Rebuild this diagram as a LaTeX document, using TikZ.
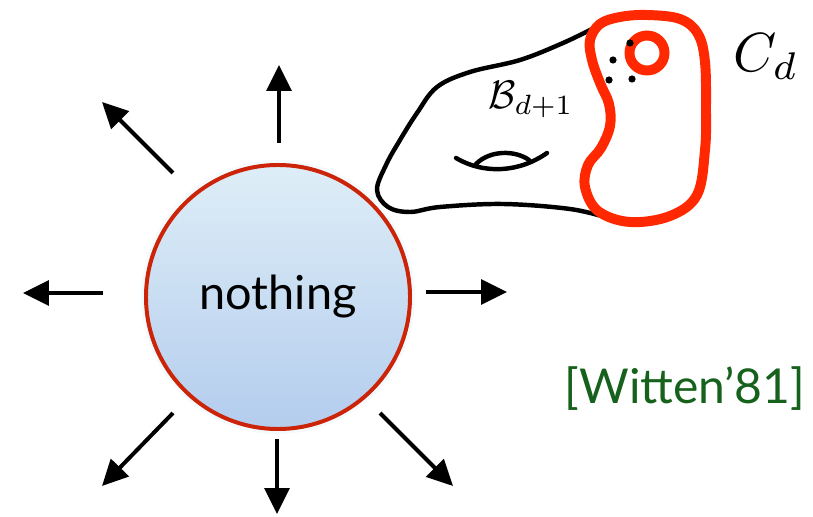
\documentclass[tikz,border=0pt]{standalone}
\usepackage{fontspec}
\setmainfont{Lato}
\usetikzlibrary{arrows.meta}

\definecolor{rimred}{RGB}{204,36,8}
\definecolor{bordred}{RGB}{255,40,0}
\definecolor{skytop}{RGB}{222,238,247}
\definecolor{skybot}{RGB}{180,205,238}
\definecolor{refgreen}{RGB}{22,98,28}

\tikzset{
  ray/.style={line width=3.4pt,-{Triangle[length=22pt,width=21pt]}},
  bulk/.style={line width=3.8pt,line cap=round},
  edge/.style={bordred,line width=8.5pt},
}

\begin{document}
\begin{tikzpicture}[x=0.03cm,y=-0.03cm]
  \useasboundingbox (0,0) rectangle (813,517);

  % the bubble
  \fill[skytop!60,opacity=0.5] (278,297) circle (137);
  \node[circle,draw=rimred,line width=3.4pt,minimum size=7.92cm,
        top color=skytop,bottom color=skybot,
        font=\fontsize{40}{48}\selectfont] (nothing) at (278,297) {nothing};

  % expanding in all directions
  \foreach \s/\t in {{(279,143)}/{(279,65)},{(173,173)}/{(102,102)},
                     {(103,293)}/{(23,293)},{(426,292)}/{(507,292)},
                     {(173,413)}/{(102,486)},{(277,439)}/{(277,514)},
                     {(380,413)}/{(453,486)}}
    \draw[ray] \s -- \t;

  % the bounding manifold
  \draw[bulk] plot[smooth,tension=0.6] coordinates {
    (596,27) (563,43) (520,60) (470,72) (437,87) (417,113) (400,140)
    (386,165) (377,190) (388,207) (410,212) (440,207) (503,204)
    (570,209) (608,218)};
  \draw[bulk] (456,158) .. controls (485,175) and (520,172) .. (547,153);
  \draw[bulk] (476,164) .. controls (490,150) and (515,150) .. (529,160);

  % the boundary
  \draw[edge] plot[smooth cycle,tension=0.6] coordinates {
    (647,15) (680,19) (698,34) (705,62) (706,110) (705,150) (697,195)
    (670,216) (630,222) (598,211) (585,187) (588,165) (601,148)
    (610,126) (609,104) (600,83) (592,60) (590,40) (600,24) (620,17)};
  \draw[edge] (647,53) circle (17.5);
  \foreach \p in {(630,43),(613,60),(609,80),(632,79)}
    \fill \p circle (3.6);

  \node[scale=3.4] (bulklabel) at (531,100) {$\mathcal{B}_{d+1}$};
  \node[scale=4.7] (edgelabel) at (766,57) {$C_d$};
  \node[text=refgreen,font=\fontsize{41}{48}\selectfont] (cite) at (685,389) {[Witten’81]};
\end{tikzpicture}
\end{document}
